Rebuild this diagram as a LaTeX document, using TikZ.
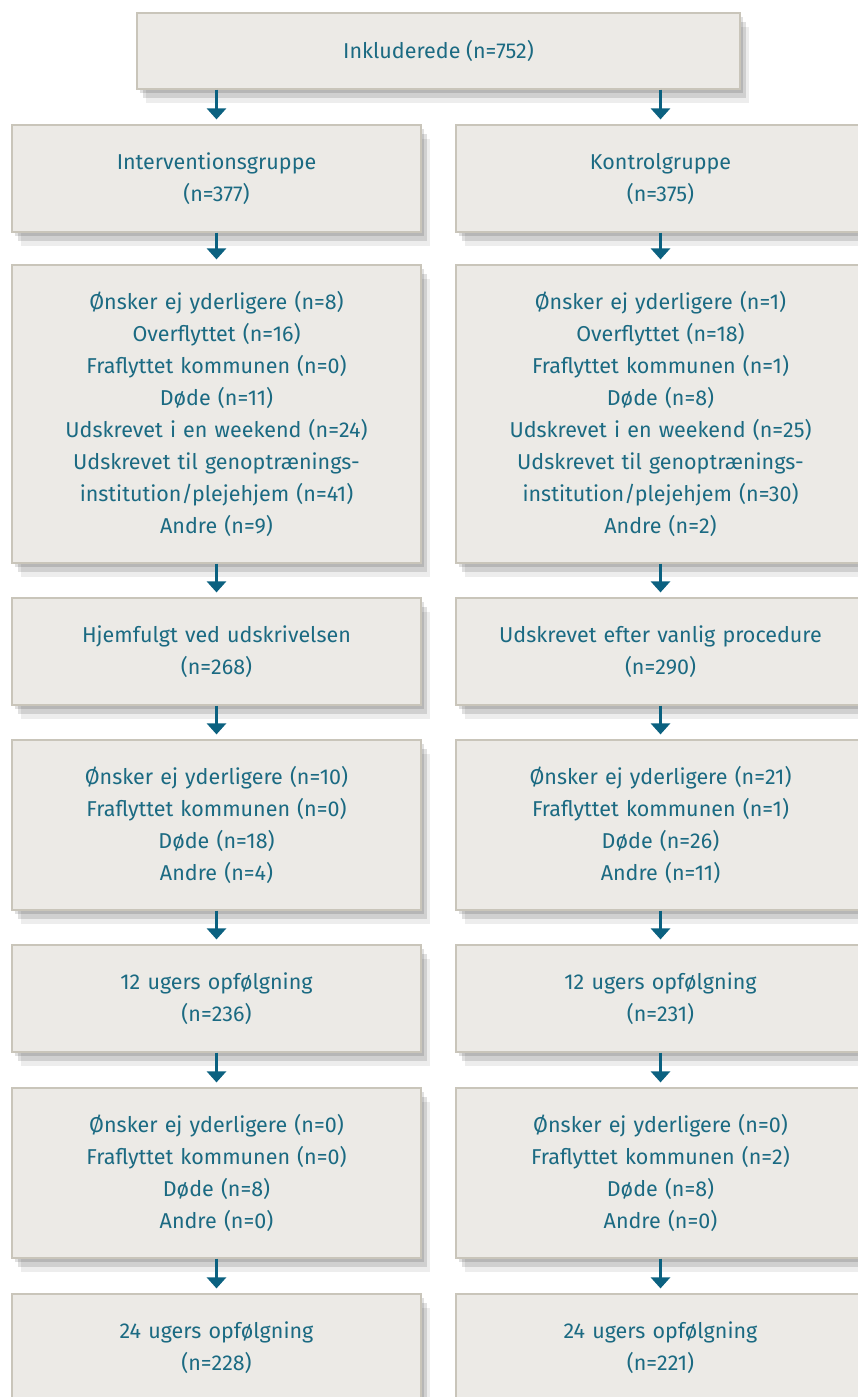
\documentclass[tikz,border=0pt]{standalone}
\usepackage{fontspec}
\setmainfont{Fira Sans}
\usepackage{xcolor}
\usepackage{tikz}
\usetikzlibrary{arrows.meta,shadows}
\definecolor{boxfill}{HTML}{ECEAE6}
\definecolor{boxline}{HTML}{C9C5BA}
\definecolor{teal}{HTML}{1B6A82}
\definecolor{arrowc}{HTML}{0B6180}
\tikzset{
  box/.style={draw=boxline, fill=boxfill, line width=1.2pt, text=teal, align=center,
    font=\fontsize{21.5}{32}\selectfont, inner sep=0pt,
    drop shadow={shadow xshift=3pt, shadow yshift=-4pt, fill=black, opacity=0.12},
    drop shadow={shadow xshift=6pt, shadow yshift=-9pt, fill=black, opacity=0.12},
    drop shadow={shadow xshift=9pt, shadow yshift=-14pt, fill=black, opacity=0.07}},
  colbox/.style={box, minimum width=409pt, text width=400pt},
  arr/.style={draw=arrowc, line width=2.6pt, -{Triangle[width=19pt,length=11pt]}, shorten >=5pt},
}
\begin{document}
\begin{tikzpicture}[x=1pt,y=-1pt]
  \useasboundingbox[fill=white] (0,0) rectangle (857,1397);
  % top
  \node[box, minimum width=603pt, minimum height=76pt] (incl) at (438.5,51) {Inkluderede (n=752)};
  % groups
  \node[colbox, minimum height=107pt] (intv) at (216.5,178.5) {Interventionsgruppe\\(n=377)};
  \node[colbox, minimum height=107pt] (ktrl) at (660.5,178.5) {Kontrolgruppe\\(n=375)};
  % first drop-outs
  \node[colbox, minimum height=298pt] (intvUd1) at (216.5,414) {%
    Ønsker ej yderligere (n=8)\\Overflyttet (n=16)\\Fraflyttet kommunen (n=0)\\Døde (n=11)\\
    Udskrevet i en weekend (n=24)\\Udskrevet til genoptrænings-\\institution/plejehjem (n=41)\\Andre (n=9)};
  \node[colbox, minimum height=298pt] (ktrlUd1) at (660.5,414) {%
    Ønsker ej yderligere (n=1)\\Overflyttet (n=18)\\Fraflyttet kommunen (n=1)\\Døde (n=8)\\
    Udskrevet i en weekend (n=25)\\Udskrevet til genoptrænings-\\institution/plejehjem (n=30)\\Andre (n=2)};
  % discharge
  \node[colbox, minimum height=107pt] (hjem) at (216.5,651.5) {Hjemfulgt ved udskrivelsen\\(n=268)};
  \node[colbox, minimum height=107pt] (udsk) at (660.5,651.5) {Udskrevet efter vanlig procedure\\(n=290)};
  % second drop-outs
  \node[colbox, minimum height=170pt] (intvUd2) at (216.5,825) {%
    Ønsker ej yderligere (n=10)\\Fraflyttet kommunen (n=0)\\Døde (n=18)\\Andre (n=4)};
  \node[colbox, minimum height=170pt] (ktrlUd2) at (660.5,825) {%
    Ønsker ej yderligere (n=21)\\Fraflyttet kommunen (n=1)\\Døde (n=26)\\Andre (n=11)};
  % 12 weeks
  \node[colbox, minimum height=107pt] (intv12) at (216.5,998.5) {12 ugers opfølgning\\(n=236)};
  \node[colbox, minimum height=107pt] (ktrl12) at (660.5,998.5) {12 ugers opfølgning\\(n=231)};
  % third drop-outs
  \node[colbox, minimum height=170pt] (intvUd3) at (216.5,1173) {%
    Ønsker ej yderligere (n=0)\\Fraflyttet kommunen (n=0)\\Døde (n=8)\\Andre (n=0)};
  \node[colbox, minimum height=170pt] (ktrlUd3) at (660.5,1173) {%
    Ønsker ej yderligere (n=0)\\Fraflyttet kommunen (n=2)\\Døde (n=8)\\Andre (n=0)};
  % 24 weeks
  \node[colbox, minimum height=107pt] (intv24) at (216.5,1347.5) {24 ugers opfølgning\\(n=228)};
  \node[colbox, minimum height=107pt] (ktrl24) at (660.5,1347.5) {24 ugers opfølgning\\(n=221)};
  % arrows
  \draw[arr] (incl.south -| intv.north) -- (intv.north);
  \draw[arr] (incl.south -| ktrl.north) -- (ktrl.north);
  \foreach \a/\b in {intv/intvUd1, intvUd1/hjem, hjem/intvUd2, intvUd2/intv12, intv12/intvUd3, intvUd3/intv24,
                     ktrl/ktrlUd1, ktrlUd1/udsk, udsk/ktrlUd2, ktrlUd2/ktrl12, ktrl12/ktrlUd3, ktrlUd3/ktrl24}
    \draw[arr] (\a.south) -- (\b.north);
\end{tikzpicture}
\end{document}
